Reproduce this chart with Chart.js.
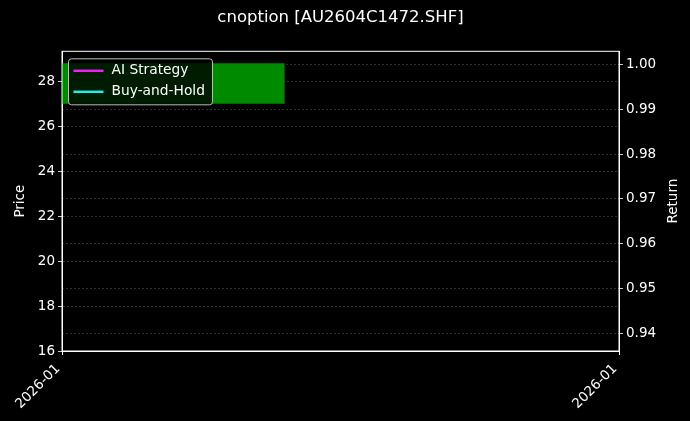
<!DOCTYPE html>
<html>
<head>
<meta charset="utf-8">
<script src="https://cdn.jsdelivr.net/npm/chart.js@4.4.1/dist/chart.umd.min.js"></script>
<style>
  html, body { margin: 0; padding: 0; background: #000; }
  #wrap { width: 690px; height: 421px; }
</style>
</head>
<body>
<div id="wrap"><canvas id="grafica"></canvas></div>
<script>
// ---- datos ----
const chartTitle = 'cnoption [AU2604C1472.SHF]';
const xTickValues = [0, 1];
const xTickLabels = ['2026-01', '2026-01'];
// banda verde (precio)
const spanX = [0, 0.4];
const spanLow = [27.0, 27.0];
const spanHigh = [28.8, 28.8];
// series de retorno (sin puntos visibles)
const seriesNames = ['AI Strategy', 'Buy-and-Hold'];
const seriesColors = ['#ee22ee', '#22eeee'];
const aiReturn = [];
const holdReturn = [];
const priceTicks = [16, 18, 20, 22, 24, 26, 28];
const returnTicks = [0.94, 0.95, 0.96, 0.97, 0.98, 0.99, 1.00];

const FONT = 'DejaVu Sans';
const gridColor = '#3c3c3c';

function pts(xs, ys) {
    return xs.map((x, i) => ({ x: x, y: ys[i] }));
}

// leyenda dentro del área y marco del gráfico
const extras = {
    id: 'extras',
    afterDatasetsDraw(chart) {
        const ctx = chart.ctx;
        const a = chart.chartArea;
        ctx.save();
        // marco
        ctx.strokeStyle = '#ffffff';
        ctx.lineWidth = 1;
        ctx.strokeRect(a.left, a.top, a.right - a.left, a.bottom - a.top);

        // leyenda
        const items = chart.data.datasets.filter(d => d.yAxisID === 'y1');
        const bx = a.left + 6.5, by = a.top + 7.5, bw = 144, bh = 46;
        ctx.beginPath();
        ctx.roundRect(bx, by, bw, bh, 3);
        ctx.fillStyle = 'rgba(0,0,0,0.8)';
        ctx.fill();
        ctx.strokeStyle = '#bbbbbb';
        ctx.lineWidth = 1;
        ctx.stroke();
        ctx.font = '13.8px "' + FONT + '"';
        ctx.textBaseline = 'middle';
        items.forEach((d, i) => {
            const y = by + 12 + i * 21;
            ctx.strokeStyle = d.borderColor;
            ctx.lineWidth = 2.5;
            ctx.beginPath();
            ctx.moveTo(bx + 5, y);
            ctx.lineTo(bx + 35, y);
            ctx.stroke();
            ctx.fillStyle = '#ffffff';
            ctx.fillText(d.label, bx + 43, y);
        });

        // título del eje derecho
        ctx.font = '13.5px "' + FONT + '"';
        ctx.translate(673, (a.top + a.bottom) / 2);
        ctx.rotate(-Math.PI / 2);
        ctx.textAlign = 'center';
        ctx.fillStyle = '#ffffff';
        ctx.fillText('Return', 0, 0);
        ctx.restore();
    }
};

const ctx = document.getElementById('grafica').getContext('2d');
const grafica = new Chart(ctx, {
    type: 'line',
    data: {
        datasets: [
            {
                label: 'low', data: pts(spanX, spanLow), yAxisID: 'y',
                borderWidth: 0, pointRadius: 0, fill: false
            },
            {
                label: 'high', data: pts(spanX, spanHigh), yAxisID: 'y',
                borderWidth: 0, pointRadius: 0, fill: '-1',
                backgroundColor: '#008a00'
            },
            {
                label: seriesNames[0], data: aiReturn, yAxisID: 'y1',
                borderColor: seriesColors[0], borderWidth: 2, pointRadius: 0
            },
            {
                label: seriesNames[1], data: holdReturn, yAxisID: 'y1',
                borderColor: seriesColors[1], borderWidth: 2, pointRadius: 0
            }
        ]
    },
    options: {
        responsive: true,
        maintainAspectRatio: false,
        animation: false,
        layout: { padding: 0 },
        plugins: {
            legend: { display: false },
            tooltip: { enabled: false },
            title: {
                display: true,
                fullSize: false,
                text: chartTitle,
                color: '#ffffff',
                font: { family: FONT, size: 16.5, weight: 'normal' },
                padding: { top: 8, bottom: 23.5 }
            }
        },
        scales: {
            x: {
                type: 'linear',
                min: 0, max: 1,
                afterBuildTicks: s => { s.ticks = xTickValues.map(v => ({ value: v })); },
                afterFit: s => { s.height = 70; },
                grid: { drawOnChartArea: false, tickLength: 4, tickColor: '#ffffff' },
                border: { color: '#ffffff' },
                ticks: {
                    color: '#ffffff',
                    font: { family: FONT, size: 13.5 },
                    autoSkip: false,
                    minRotation: 45, maxRotation: 45,
                    padding: 6,
                    labelOffset: -4,
                    callback: (v, i) => xTickLabels[i]
                }
            },
            y: {
                position: 'left',
                min: 16, max: 29.33,
                afterBuildTicks: s => { s.ticks = priceTicks.map(v => ({ value: v })); },
                afterFit: s => { s.width = 62; },
                grid: { color: gridColor, lineWidth: 0.8, tickLength: 4, tickColor: '#ffffff' },
                border: { color: '#ffffff', dash: [2, 2] },
                title: {
                    display: true, text: 'Price', color: '#ffffff',
                    font: { family: FONT, size: 13.5 },
                    padding: { top: 12, bottom: 0 }
                },
                ticks: {
                    color: '#ffffff',
                    font: { family: FONT, size: 13.5 },
                    padding: 3
                }
            },
            y1: {
                position: 'right',
                min: 0.936, max: 1.003,
                afterBuildTicks: s => { s.ticks = returnTicks.map(v => ({ value: v })); },
                afterFit: s => { s.width = 71; },
                grid: { color: gridColor, lineWidth: 0.8, tickLength: 4, tickColor: '#ffffff' },
                border: { color: '#ffffff', dash: [2, 2] },
                ticks: {
                    color: '#ffffff',
                    font: { family: FONT, size: 13.5 },
                    padding: 3,
                    callback: v => v.toFixed(2)
                }
            }
        }
    },
    plugins: [extras]
});
</script>
</body>
</html>
